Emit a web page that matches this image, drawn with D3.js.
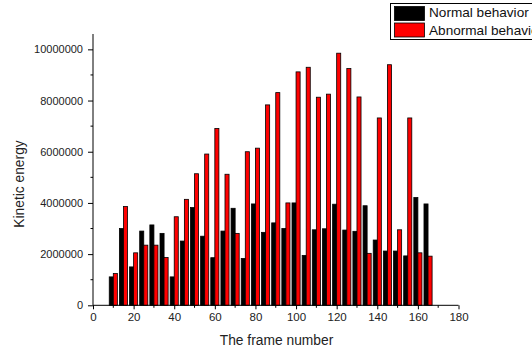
<!DOCTYPE html>
<html><head><meta charset="utf-8">
<script src="https://cdn.jsdelivr.net/npm/d3@7"></script>
<style>
html,body{margin:0;padding:0;background:#fff;overflow:hidden}
svg{display:block;font-family:"Liberation Sans",Arial,sans-serif}
</style></head><body>
<svg id="c" width="532" height="351"></svg>
<script>
const frames = [10,15,20,25,30,35,40,45,50,55,60,65,70,75,80,85,90,95,100,105,110,115,120,125,130,135,140,145,150,155,160,165];
const normalValues = [1110000,3000000,1500000,2900000,3140000,2810000,1110000,2510000,3820000,2700000,1860000,2900000,3790000,1830000,3960000,2850000,3220000,3000000,4000000,1950000,2950000,2990000,3950000,2940000,2890000,3890000,2550000,2120000,2120000,1930000,4210000,3960000];
const abnormalValues = [1240000,3860000,2050000,2350000,2350000,1870000,3460000,4140000,5140000,5910000,6910000,5120000,2810000,6000000,6140000,7830000,8310000,4000000,9120000,9300000,8130000,8250000,9850000,9250000,8140000,2030000,7320000,9400000,2950000,7320000,2050000,1920000];
const seriesNames = ["Normal behavior","Abnormal behavior"];
const seriesColors = ["#000000","#ff0000"];
const xTicks = [0,20,40,60,80,100,120,140,160,180];
const xMinor = [10,30,50,70,90,110,130,150,170];
const yTicks = [0,2000000,4000000,6000000,8000000,10000000];
const yMinor = [1000000,3000000,5000000,7000000,9000000];

const svg = d3.select("#c");
const x = d3.scaleLinear().domain([0,180]).range([93,458.5]);
const y = d3.scaleLinear().domain([0,10600000]).range([305.3,34]);
const barW = 2;

const series = [normalValues, abnormalValues];
series.forEach((vals,si)=>{
  svg.append("g").selectAll("rect").data(frames).join("rect")
    .attr("x", (f)=> si===0 ? x(f-barW) : x(f))
    .attr("width", x(barW)-x(0))
    .attr("y", (f,i)=> y(vals[i]))
    .attr("height", (f,i)=> y(0)-y(vals[i]))
    .attr("fill", seriesColors[si])
    .attr("stroke", "#000").attr("stroke-width", 0.8);
});

// x axis
const gx = svg.append("g").attr("transform",`translate(0,${y(0)})`);
gx.call(d3.axisBottom(x).tickValues(xTicks).tickFormat(d3.format("d")).tickSize(4).tickPadding(4));
gx.append("g").selectAll("line").data(xMinor).join("line")
  .attr("x1",d=>x(d)).attr("x2",d=>x(d)).attr("y1",0).attr("y2",2.5).attr("stroke","#000");
gx.selectAll("text").attr("font-size",11.5).attr("fill","#222").attr("font-family","Liberation Sans, Arial, sans-serif");
gx.select(".domain").attr("d",`M${x(0)},0H${x(180)}`);

// y axis
const gy = svg.append("g").attr("transform",`translate(${x(0)},0)`);
gy.call(d3.axisLeft(y).tickValues(yTicks).tickFormat(d3.format("d")).tickSize(5).tickPadding(5));
gy.append("g").selectAll("line").data(yMinor).join("line")
  .attr("y1",d=>y(d)).attr("y2",d=>y(d)).attr("x1",0).attr("x2",-2.5).attr("stroke","#000");
gy.selectAll("text").attr("font-size",11).attr("fill","#222").attr("font-family","Liberation Sans, Arial, sans-serif");
gy.select(".domain").attr("d",`M0,${y(0)}V${y(10600000)}`);

// titles
svg.append("text").attr("x",276.5).attr("y",345).attr("text-anchor","middle")
  .attr("font-size",13.8).attr("fill","#222").text("The frame number");
svg.append("text").attr("transform","translate(24,184) rotate(-90)").attr("text-anchor","middle")
  .attr("font-size",13.8).attr("fill","#222").text("Kinetic energy");

// legend
const lg = svg.append("g");
lg.append("rect").attr("x",390.5).attr("y",3.5).attr("width",160).attr("height",36)
  .attr("fill","#fff").attr("stroke","#000").attr("stroke-width",1);
seriesNames.forEach((n,i)=>{
  lg.append("rect").attr("x",394.5).attr("y",6.5+i*16.5).attr("width",30).attr("height",14)
    .attr("fill",seriesColors[i]).attr("stroke","#000").attr("stroke-width",0.8);
  lg.append("text").attr("x",429).attr("y",17+i*17.5).attr("font-size",13.6).attr("fill","#111").text(n);
});
</script>
</body></html>
